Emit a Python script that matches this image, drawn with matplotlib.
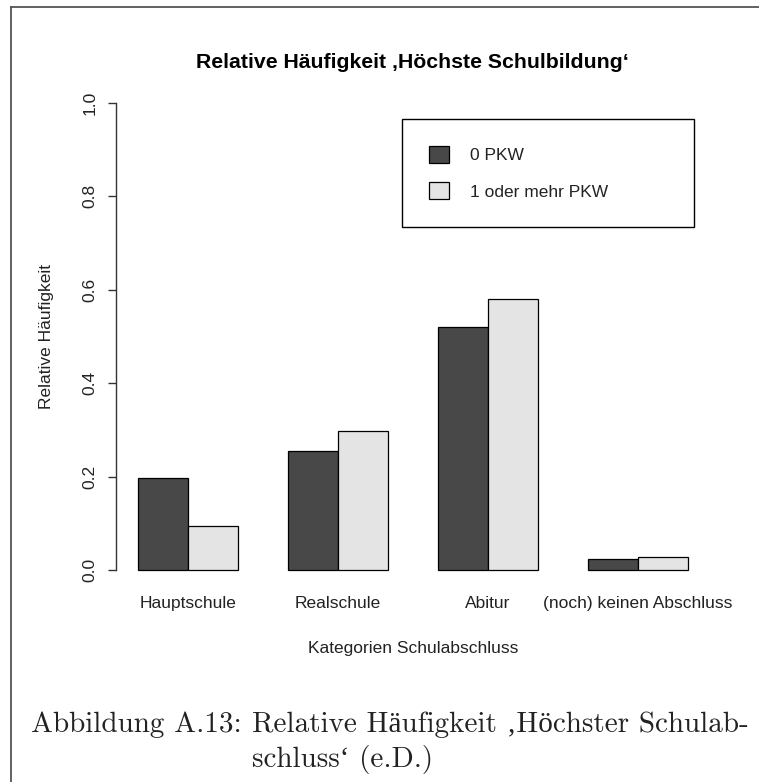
import numpy as np
import matplotlib
matplotlib.use("Agg")
import matplotlib.pyplot as plt
from matplotlib.lines import Line2D

# Daten
kategorien = ['Hauptschule', 'Realschule', 'Abitur', '(noch) keinen Abschluss']
pkw0 = [0.197, 0.255, 0.521, 0.024]
pkw1 = [0.095, 0.298, 0.580, 0.027]
serien = ['0 PKW', '1 oder mehr PKW']
yticks = [0.0, 0.2, 0.4, 0.6, 0.8, 1.0]

plt.rcParams['font.family'] = ['Liberation Sans', 'DejaVu Sans']

W, H = 759, 782
fig = plt.figure(figsize=(W / 100, H / 100), dpi=100)
fig.patch.set_facecolor('white')

# Plotbereich wie bei R barplot (xlim 0.56..12.44, ylim -0.04..1.04)
x0, x1 = 115.8, 709.8
ytop, ybot = 84.3, 588.7
ax = fig.add_axes([x0 / W, 1 - ybot / H, (x1 - x0) / W, (ybot - ytop) / H])

n = len(kategorien)
grp = np.arange(n) * 3
ax.bar(grp + 1.5, pkw0, width=1, color='#484848', edgecolor='black', linewidth=0.9, label=serien[0])
ax.bar(grp + 2.5, pkw1, width=1, color='#e4e4e4', edgecolor='black', linewidth=0.9, label=serien[1])

ax.set_xlim(0.56, 12.44)
ax.set_ylim(-0.04, 1.04)

for s in ['top', 'right', 'bottom']:
    ax.spines[s].set_visible(False)
ax.spines['left'].set_bounds(0, 1)
ax.spines['left'].set_color('#333333')
ax.spines['left'].set_linewidth(1.0)

ax.set_yticks(yticks)
ax.set_yticklabels(['%.1f' % v for v in yticks], rotation=90, va='center', ha='right')
ax.tick_params(axis='y', length=6, width=1.0, color='#333333', pad=7, labelsize=12.5, labelcolor='#222222')
ax.set_xticks(grp + 2)
ax.set_xticklabels(kategorien)
ax.tick_params(axis='x', length=0, pad=5, labelsize=12.5, labelcolor='#222222')

ax.set_title('Relative Häufigkeit ‚Höchste Schulbildung‘', fontsize=15.3, fontweight='bold',
             y=(ybot - 62) / (ybot - ytop), va='center', pad=0)
ax.set_ylabel('Relative Häufigkeit', fontsize=12.5, color='#222222')
ax.yaxis.label.set_va('center')
ax.yaxis.set_label_coords((46 - x0) / (x1 - x0), 0.5)
ax.set_xlabel('Kategorien Schulabschluss', fontsize=12.5, color='#222222')
ax.xaxis.label.set_va('center')
ax.xaxis.set_label_coords(0.5, (ybot - 648) / (ybot - ytop))

leg = ax.legend(loc='upper left', bbox_to_anchor=(402 / W, 1 - 120 / H, (694 - 402) / W, 0.001),
                bbox_transform=fig.transFigure, mode='expand', fontsize=12.5,
                fancybox=False, framealpha=1, edgecolor='black', borderpad=1.55,
                handlelength=1.15, handleheight=1.1, handletextpad=1.2, labelspacing=1.1,
                borderaxespad=0)
leg.get_frame().set_linewidth(1.0)
for t in leg.get_texts():
    t.set_color('#222222')

# Rahmen der Seite
fig.add_artist(Line2D([11 / W, 11 / W], [0, 1 - 7 / H], color='#555555', lw=1.3))
fig.add_artist(Line2D([11 / W, 1], [1 - 7 / H, 1 - 7 / H], color='#555555', lw=1.3))

# Bildunterschrift
cap = ['cmr10', 'Liberation Serif']
fig.text(31 / W, 1 - 732 / H, 'Abbildung A.13:', family=cap, fontsize=21, va='baseline', ha='left', color='#222222')
fig.text(252 / W, 1 - 732 / H, 'Relative Häufigkeit ‚Höchster Schulab-', family=cap, fontsize=21,
         va='baseline', ha='left', color='#222222')
fig.text(252 / W, 1 - 767 / H, 'schluss‘ (e.D.)', family=cap, fontsize=21, va='baseline', ha='left',
         color='#222222')

fig.savefig('out.png', dpi=100)
